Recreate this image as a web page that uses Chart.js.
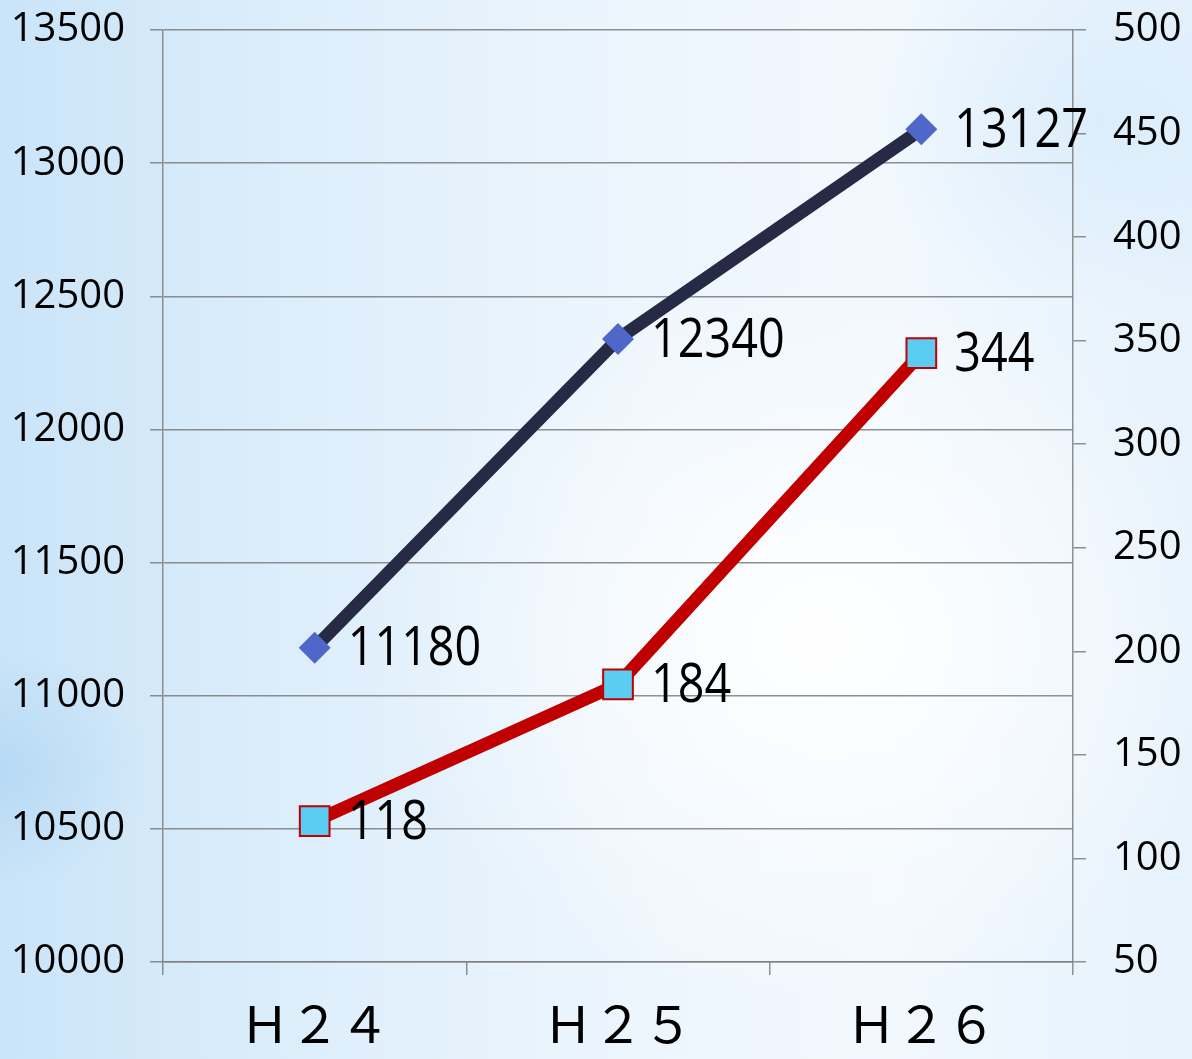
<!DOCTYPE html>
<html>
<head>
<meta charset="utf-8">
<script src="https://cdn.jsdelivr.net/npm/chart.js@4"></script>
<style>
  html, body { margin: 0; padding: 0; }
  #wrap {
    width: 1192px; height: 1059px; position: relative;
    background:
      radial-gradient(ellipse 560px 470px at 820px 640px, rgba(255,255,255,0.97), rgba(255,255,255,0) 78%),
      radial-gradient(ellipse 200px 160px at 0px 770px, rgba(170,210,242,0.6), rgba(170,210,242,0) 75%),
      radial-gradient(ellipse 300px 260px at 1100px 120px, rgba(210,233,251,0.6), rgba(210,233,251,0) 75%),
      linear-gradient(90deg, #cae4f8 0%, #ddeefb 25%, #eef6fd 55%, #f1f8fe 75%, #e6f2fc 100%);
  }
</style>
</head>
<body>
<div id="wrap"><canvas id="myChart"></canvas></div>
<script>
// datos del grafico
const categorias = ["Ｈ２４", "Ｈ２５", "Ｈ２６"];
const serieIzq = [11180, 12340, 13127]; // eje izquierdo
const serieDer = [118, 184, 344];       // eje derecho
const ticksIzq = [10000, 13500, 500];   // min, max, paso
const ticksDer = [50, 500, 50];

const colorGrid = 'rgba(125,125,125,0.85)';

// etiquetas de valor al lado de cada punto
const etiquetas = {
    id: 'etiquetas',
    afterDatasetsDraw(chart) {
        const ctx = chart.ctx;
        ctx.save();
        ctx.fillStyle = '#000';
        ctx.font = '55px "Open Sans"';
        ctx.textBaseline = 'middle';
        ctx.textAlign = 'left';
        chart.data.datasets.forEach((ds, i) => {
            const meta = chart.getDatasetMeta(i);
            meta.data.forEach((pt, j) => {
                ctx.save();
                ctx.translate(pt.x + 33, pt.y + 2);
                ctx.scale(0.85, 1);
                ctx.fillText(String(ds.data[j]), 0, 0);
                ctx.restore();
            });
        });
        ctx.restore();
    }
};

// ancho fijo de los ejes y sin relleno extra arriba/abajo
function fijarAncho(w) {
    return scale => {
        scale.width = w;
        scale.paddingTop = 0;
        scale.paddingBottom = 0;
    };
}

let mychart = document.getElementById("myChart").getContext("2d");

var chart = new Chart(mychart, {
    type: "line",
    data: {
        labels: categorias,
        datasets: [{
            data: serieIzq,
            yAxisID: 'y',
            borderColor: '#262a45',
            borderWidth: 13,
            pointStyle: 'rectRot',
            pointRadius: 16,
            pointBackgroundColor: '#4f67c8',
            pointBorderColor: '#4f67c8',
            pointBorderWidth: 0,
            tension: 0
        }, {
            data: serieDer,
            yAxisID: 'y1',
            borderColor: '#c00000',
            borderWidth: 13,
            pointStyle: 'rect',
            pointRadius: 21,
            pointBackgroundColor: '#5ccdf2',
            pointBorderColor: '#c00000',
            pointBorderWidth: 2,
            tension: 0
        }]
    },
    options: {
        responsive: true,
        maintainAspectRatio: false,
        animation: false,
        layout: { padding: { top: 30, left: 0, right: 0, bottom: 0 } },
        scales: {
            x: {
                offset: true,
                grid: { offset: true, drawOnChartArea: false, color: colorGrid, tickLength: 13, lineWidth: 1.5 },
                border: { display: true, color: colorGrid, width: 1.5 },
                ticks: {
                    color: '#000',
                    padding: 24,
                    font: { family: '"Liberation Sans", "Noto Sans CJK JP"', size: 50 }
                },
                afterFit(scale) { scale.height = 97; }
            },
            y: {
                position: 'left',
                min: ticksIzq[0], max: ticksIzq[1],
                grid: { color: colorGrid, tickLength: 13, lineWidth: 1.5 },
                border: { display: true, color: colorGrid, width: 1.5 },
                ticks: {
                    stepSize: ticksIzq[2],
                    color: '#000',
                    padding: 25,
                    font: { family: '"Open Sans"', size: 40 },
                    callback: v => String(v)
                },
                afterFit: fijarAncho(163)
            },
            y1: {
                position: 'right',
                min: ticksDer[0], max: ticksDer[1],
                grid: { drawOnChartArea: false, color: colorGrid, tickLength: 13, lineWidth: 1.5 },
                border: { display: true, color: colorGrid, width: 1.5 },
                ticks: {
                    stepSize: ticksDer[2],
                    color: '#000',
                    padding: 27,
                    font: { family: '"Open Sans"', size: 40 },
                    callback: v => String(v)
                },
                afterFit: fijarAncho(119)
            }
        },
        plugins: {
            legend: { display: false },
            tooltip: { enabled: false }
        }
    },
    plugins: [etiquetas]
});
</script>
</body>
</html>
